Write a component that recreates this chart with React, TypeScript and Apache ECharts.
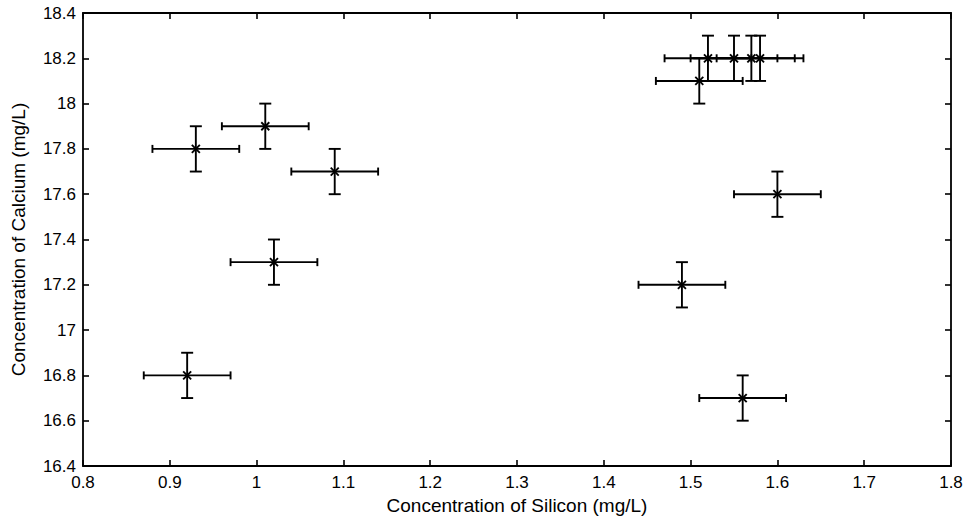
import React, { useEffect, useRef } from "react";
import * as echarts from "echarts";

const xValues = [0.93, 1.01, 1.09, 1.02, 0.92, 1.49, 1.56, 1.6, 1.51, 1.52, 1.55, 1.57, 1.58];
const yValues = [17.8, 17.9, 17.7, 17.3, 16.8, 17.2, 16.7, 17.6, 18.1, 18.2, 18.2, 18.2, 18.2];
const xErrors = [0.05, 0.05, 0.05, 0.05, 0.05, 0.05, 0.05, 0.05, 0.05, 0.05, 0.05, 0.05, 0.05];
const yErrors = [0.1, 0.1, 0.1, 0.1, 0.1, 0.1, 0.1, 0.1, 0.1, 0.1, 0.1, 0.1, 0.1];

const xAxisTitle = "Concentration of Silicon (mg/L)";
const yAxisTitle = "Concentration of Calcium (mg/L)";

const FONT = "'Liberation Sans', Arial, Helvetica, sans-serif";

export default function App() {
  const ref = useRef<HTMLDivElement>(null);
  useEffect(() => {
    if (!ref.current) return;
    const chart = echarts.init(ref.current, null, { renderer: "svg" });
    const data = xValues.map((x, i) => [x, yValues[i], xErrors[i], yErrors[i]]);
    const axisLine = { show: true, lineStyle: { color: "#000", width: 1.8 } };
    const axisTick = { show: true, inside: true, length: 6, lineStyle: { color: "#000", width: 1.6 } };
    const labelStyle = { color: "#000", fontSize: 17, fontFamily: FONT };
    const nameStyle = { color: "#000", fontSize: 19, fontFamily: FONT };
    chart.setOption({
      animation: false,
      backgroundColor: "#fff",
      grid: { left: 83, right: 17, top: 13, bottom: 53, containLabel: false },
      xAxis: [
        {
          type: "value", min: 0.8, max: 1.8, interval: 0.1, position: "bottom",
          axisLine, axisTick, splitLine: { show: false },
          axisLabel: { ...labelStyle, margin: 8 },
          name: xAxisTitle, nameLocation: "middle", nameGap: 30, nameTextStyle: nameStyle,
        },
        {
          type: "value", min: 0.8, max: 1.8, interval: 0.1, position: "top",
          axisLine, axisTick, splitLine: { show: false }, axisLabel: { show: false },
        },
      ],
      yAxis: [
        {
          type: "value", min: 16.4, max: 18.4, interval: 0.2, position: "left",
          axisLine, axisTick, splitLine: { show: false },
          axisLabel: { ...labelStyle, margin: 7 },
          name: yAxisTitle, nameLocation: "middle", nameGap: 55, nameTextStyle: nameStyle,
        },
        {
          type: "value", min: 16.4, max: 18.4, interval: 0.2, position: "right",
          axisLine, axisTick, splitLine: { show: false }, axisLabel: { show: false },
        },
      ],
      series: [
        {
          type: "custom",
          xAxisIndex: 0,
          yAxisIndex: 0,
          dimensions: ["x", "y", "xe", "ye"],
          encode: { x: 0, y: 1 },
          data,
          renderItem: (params: any, api: any) => {
            const x = api.value(0);
            const y = api.value(1);
            const xe = api.value(2);
            const ye = api.value(3);
            const c = api.coord([x, y]);
            const l = api.coord([x - xe, y]);
            const r = api.coord([x + xe, y]);
            const t = api.coord([x, y + ye]);
            const b = api.coord([x, y - ye]);
            const hc = 4;
            const vc = 6;
            const m = 4;
            const style = { stroke: "#000", lineWidth: 1.9, fill: null };
            const line = (x1: number, y1: number, x2: number, y2: number) => ({
              type: "line",
              shape: { x1, y1, x2, y2 },
              style,
            });
            return {
              type: "group",
              children: [
                line(l[0], l[1], r[0], r[1]),
                line(l[0], l[1] - hc, l[0], l[1] + hc),
                line(r[0], r[1] - hc, r[0], r[1] + hc),
                line(t[0], t[1], b[0], b[1]),
                line(t[0] - vc, t[1], t[0] + vc, t[1]),
                line(b[0] - vc, b[1], b[0] + vc, b[1]),
                line(c[0] - m, c[1] - m, c[0] + m, c[1] + m),
                line(c[0] - m, c[1] + m, c[0] + m, c[1] - m),
              ],
            };
          },
        },
      ],
    });
    return () => chart.dispose();
  }, []);
  return (
    <div
      ref={ref}
      style={{ position: "absolute", left: 0, top: 0, width: 968, height: 520, background: "#fff" }}
    />
  );
}
